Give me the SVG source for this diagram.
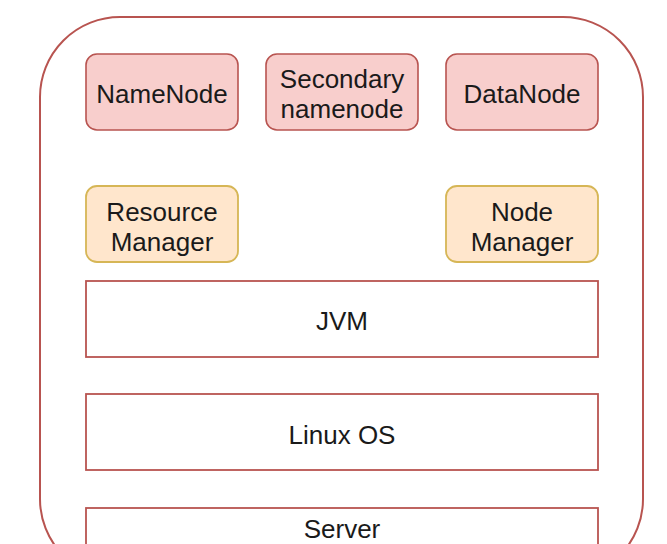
<svg xmlns="http://www.w3.org/2000/svg" width="667" height="544" viewBox="0 0 667 544">
<style>
  .t{font-family:"Liberation Sans",Arial,sans-serif;font-size:26px;fill:#1a1a1a;text-anchor:middle;dominant-baseline:central}
  .red{fill:#f8cecc;stroke:#b85450;stroke-width:1.6}
  .yel{fill:#ffe6cc;stroke:#d6b656;stroke-width:1.8}
  .layer{fill:#ffffff;stroke:#b85450;stroke-width:1.8}
</style>
<rect width="667" height="544" fill="#ffffff"/>
<g id="container"><rect x="40" y="17" width="603" height="562" rx="80" ry="80" fill="none" stroke="#b85450" stroke-width="2"/></g>
<g id="namenode"><rect class="red" x="86" y="54" width="152" height="76" rx="11"/><text class="t" x="162" y="94">NameNode</text></g>
<g id="secondary"><rect class="red" x="266" y="54" width="152" height="76" rx="11"/><text class="t" x="342" y="79">Secondary</text><text class="t" x="342" y="109">namenode</text></g>
<g id="datanode"><rect class="red" x="446" y="54" width="152" height="76" rx="11"/><text class="t" x="522" y="94">DataNode</text></g>
<g id="resourcemanager"><rect class="yel" x="86" y="186" width="152" height="76" rx="11"/><text class="t" x="162" y="212">Resource</text><text class="t" x="162" y="242">Manager</text></g>
<g id="nodemanager"><rect class="yel" x="446" y="186" width="152" height="76" rx="11"/><text class="t" x="522" y="212">Node</text><text class="t" x="522" y="242">Manager</text></g>
<g id="jvm"><rect class="layer" x="86" y="281" width="512" height="76"/><text class="t" x="342" y="321">JVM</text></g>
<g id="linux"><rect class="layer" x="86" y="394" width="512" height="76"/><text class="t" x="342" y="435">Linux OS</text></g>
<g id="server"><rect class="layer" x="86" y="508" width="512" height="76"/><text class="t" x="342" y="529">Server</text></g>
<g id="connectors"></g>
</svg>
